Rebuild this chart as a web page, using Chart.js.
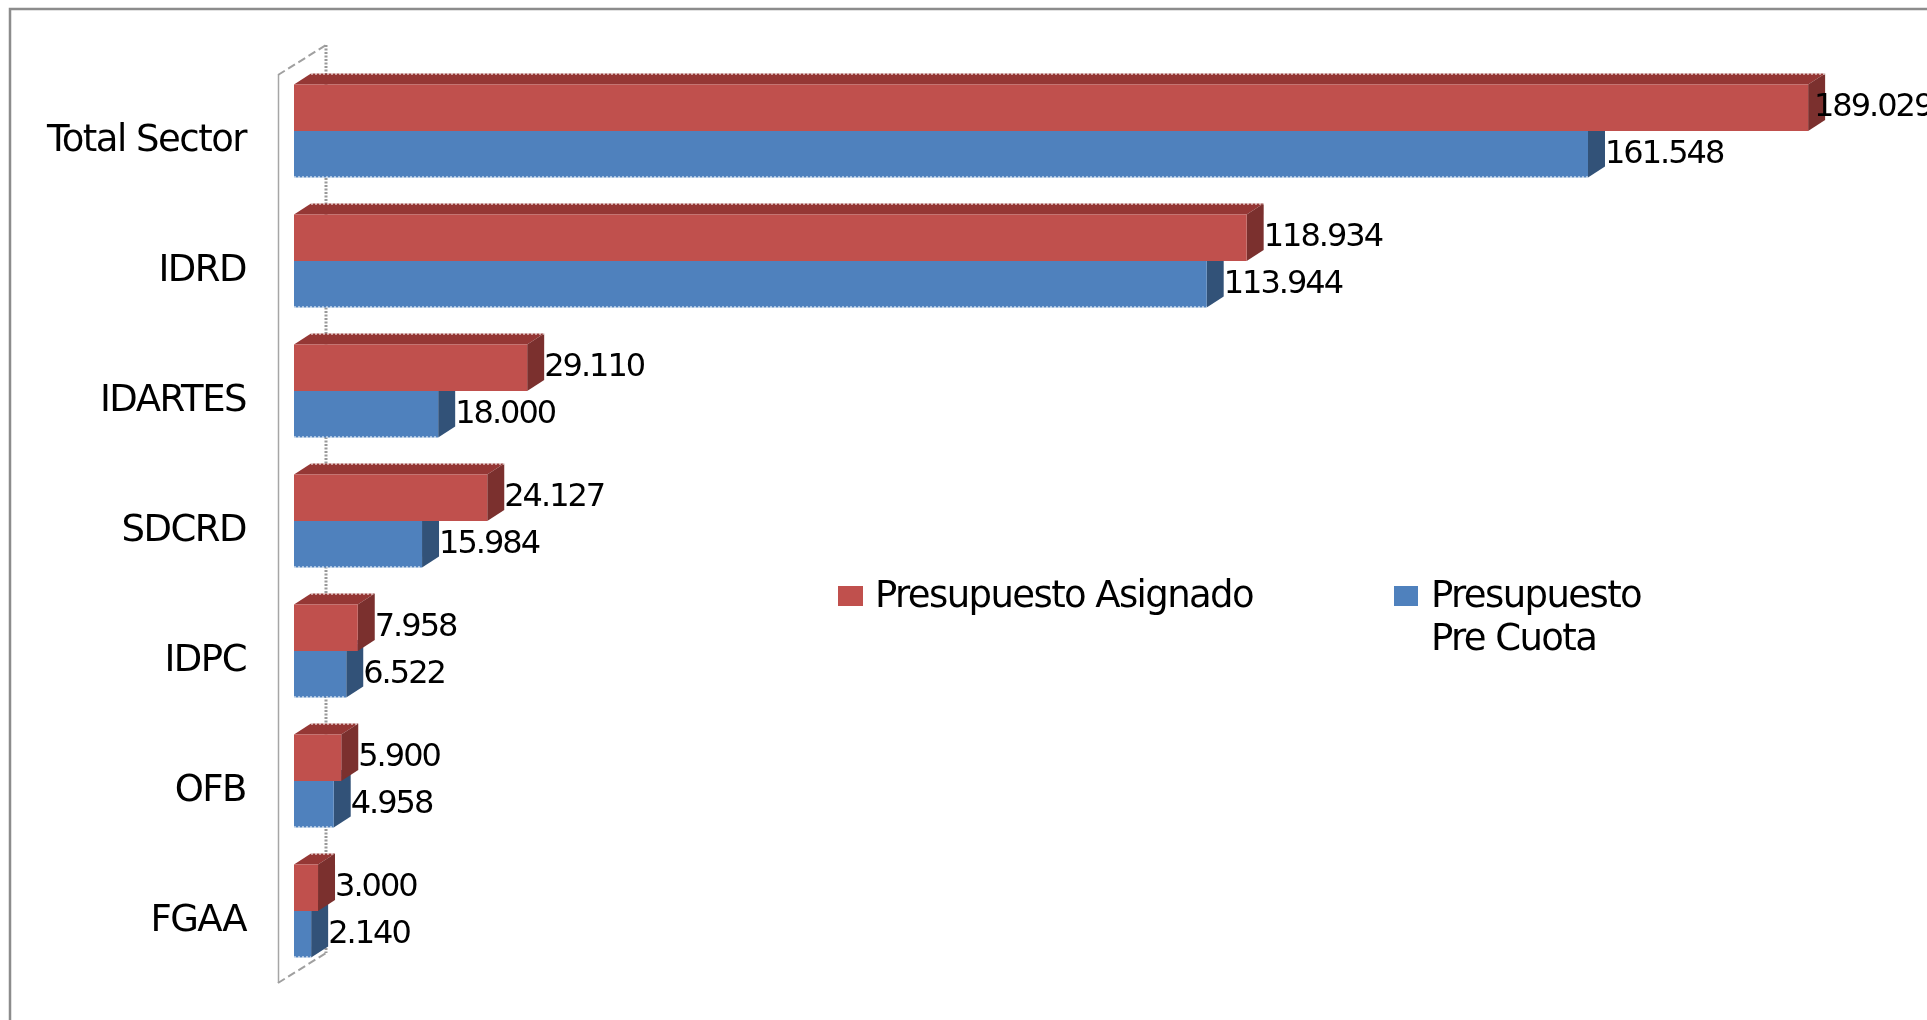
<!DOCTYPE html>
<html>
<head>
<meta charset="utf-8">
<style>html,body{margin:0;padding:0;background:#fff}canvas{display:block}</style>
<script src="https://cdn.jsdelivr.net/npm/chart.js@4"></script>
</head>
<body>
<canvas id="c" width="1927" height="1020"></canvas>
<script>
const categories = ["Total Sector","IDRD","IDARTES","SDCRD","IDPC","OFB","FGAA"];
const asignado = [189029,118934,29110,24127,7958,5900,3000];
const preCuota = [161548,113944,18000,15984,6522,4958,2140];
const seriesNames = ["Presupuesto Asignado","Presupuesto Pre Cuota"];

const FONT = '"DejaVu Sans", sans-serif';
const fmt = v => String(v).replace(/\B(?=(\d{3})+$)/g,'.');
const DX = 17, DY = 11;
const shades = [
  {front:'#c0504d', top:'#953735', side:'#7b302e'},
  {front:'#4f81bd', top:'#385d8a', side:'#325278'}
];
function poly(ctx, pts, fill){
  ctx.fillStyle = fill; ctx.beginPath();
  pts.forEach((p,i)=> i ? ctx.lineTo(p[0],p[1]) : ctx.moveTo(p[0],p[1]));
  ctx.closePath(); ctx.fill();
}
function dashed(ctx,x0,y0,x1,y1){
  ctx.beginPath(); ctx.moveTo(x0,y0); ctx.lineTo(x1,y1); ctx.stroke();
}
const scene = {
  id:'scene',
  beforeDraw(chart){
    const ctx = chart.ctx;
    ctx.letterSpacing = '-1.5px';
    ctx.save();
    // frame
    ctx.strokeStyle='#8c8c8c'; ctx.lineWidth=2.5;
    ctx.beginPath(); ctx.moveTo(10,1020); ctx.lineTo(10,9); ctx.lineTo(1927,9); ctx.stroke();
    // wall
    ctx.strokeStyle='#a6a6a6'; ctx.lineWidth=1.5;
    ctx.beginPath(); ctx.moveTo(278.5,983); ctx.lineTo(278.5,75); ctx.stroke();
    ctx.setLineDash([8,4]); ctx.lineWidth=2; ctx.strokeStyle='#a0a0a0';
    ctx.beginPath(); ctx.moveTo(278,75); ctx.lineTo(326,45); ctx.stroke();
    ctx.beginPath(); ctx.moveTo(278,983); ctx.lineTo(326,953); ctx.stroke();
    ctx.setLineDash([2,1.5]); ctx.lineWidth=3; ctx.strokeStyle='#999999';
    ctx.beginPath(); ctx.moveTo(326,45); ctx.lineTo(326,953); ctx.stroke();
    ctx.restore();
  },
  beforeDatasetDraw(chart,args){
    const ctx = chart.ctx, s = shades[args.index];
    args.meta.data.forEach(b=>{
      const h = b.height, t = b.y-h/2, bt = b.y+h/2, x0 = b.base, x1 = b.x;
      poly(ctx,[[x0,t],[x0+DX,t-DY],[x1+DX,t-DY],[x1,t]],s.top);
      poly(ctx,[[x1,t],[x1+DX,t-DY],[x1+DX,bt-DY],[x1,bt]],s.side);
    });
  },
  afterDatasetsDraw(chart){
    const ctx = chart.ctx;
    ctx.save();
    ctx.strokeStyle='#fff'; ctx.lineWidth=1; ctx.setLineDash([2,2]);
    chart.getDatasetMeta(0).data.forEach(b=>{
      const t=b.y-b.height/2-DY+0.5;
      dashed(ctx,b.base+DX,t,b.x+DX,t);
    });
    chart.getDatasetMeta(1).data.forEach(b=>{
      const bt=b.y+b.height/2-0.5;
      dashed(ctx,b.base,bt,b.x,bt);
    });
    ctx.restore();
  },
  afterDraw(chart){
    const ctx = chart.ctx;
    ctx.save();
    ctx.fillStyle='#000'; ctx.textBaseline='middle'; ctx.textAlign='left';
    ctx.font='32px '+FONT;
    ctx.letterSpacing='-2px';
    chart.data.datasets.forEach((d,di)=>{
      chart.getDatasetMeta(di).data.forEach((b,i)=>{
        const x = Math.min(b.x+17, 1814);
        ctx.fillText(fmt(d.data[i]), x, b.y);
      });
    });
    // legend
    ctx.font='37px '+FONT;
    ctx.letterSpacing='-1.6px';
    poly(ctx,[[838,586],[863,586],[863,606],[838,606]],shades[0].front);
    poly(ctx,[[1394,586],[1418,586],[1418,606],[1394,606]],shades[1].front);
    ctx.fillStyle='#000';
    ctx.fillText(seriesNames[0], 875, 597);
    const words = seriesNames[1].split(' ');
    ctx.fillText(words[0], 1431, 597);
    ctx.fillText(words.slice(1).join(' '), 1431, 640);
    ctx.restore();
  }
};
new Chart(document.getElementById('c'),{
  type:'bar',
  data:{labels:categories,datasets:[
    {label:seriesNames[0],data:asignado,backgroundColor:shades[0].front,categoryPercentage:0.715,barPercentage:1},
    {label:seriesNames[1],data:preCuota,backgroundColor:shades[1].front,categoryPercentage:0.715,barPercentage:1}
  ]},
  options:{
    indexAxis:'y',responsive:false,animation:false,
    layout:{padding:{top:66,bottom:44,right:31,left:0}},
    plugins:{legend:{display:false},tooltip:{enabled:false},title:{display:false}},
    scales:{
      x:{display:false,min:0,max:200000,grid:{display:false}},
      y:{
        afterFit(s){s.width=294;s.paddingTop=0;s.paddingBottom=0;},
        border:{display:false},
        grid:{display:false,drawTicks:false},
        ticks:{color:'#000',font:{family:FONT,size:37},padding:48,labelOffset:10,autoSkip:false}
      }
    }
  },
  plugins:[scene]
});
</script>
</body>
</html>
